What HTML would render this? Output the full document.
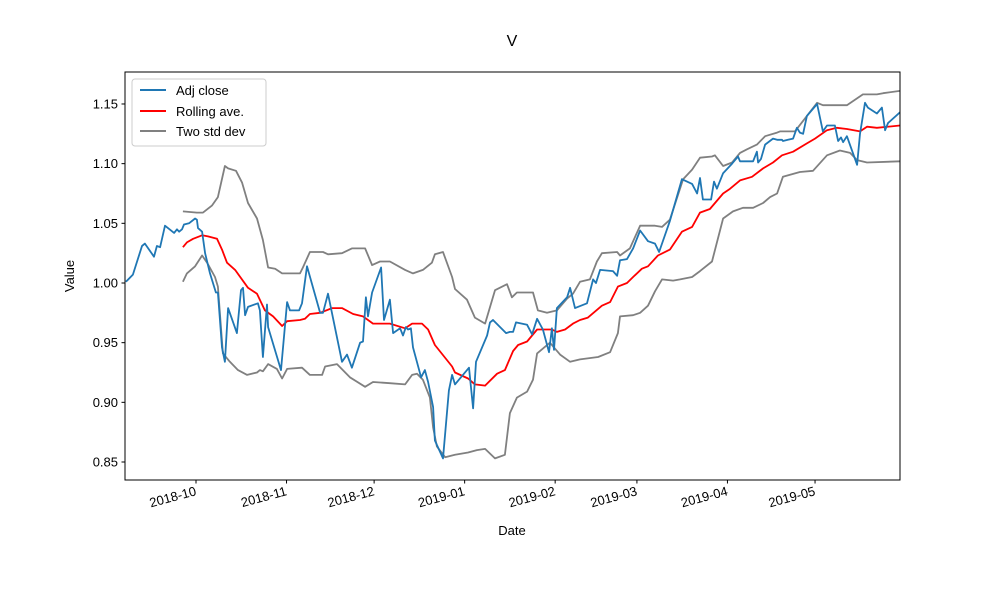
<!DOCTYPE html>
<html><head><meta charset="utf-8"><style>
body{margin:0;background:#fff}
svg{font-family:"Liberation Sans","DejaVu Sans",sans-serif}
</style></head><body>
<svg id="chart" width="1000" height="600" viewBox="0 0 1000 600" xmlns="http://www.w3.org/2000/svg">
<rect width="1000" height="600" fill="#fff"/>
<defs><clipPath id="clip"><rect x="125" y="72" width="775" height="408"/></clipPath></defs>
<text x="512" y="46" text-anchor="middle" font-size="16">V</text>
<g id="series" clip-path="url(#clip)"></g>
<rect x="125" y="72" width="775" height="408" fill="none" stroke="#000" stroke-width="1"/>
<g id="axes"></g>
<text x="512" y="535" text-anchor="middle" font-size="13">Date</text>
<text transform="translate(74,276) rotate(-90)" text-anchor="middle" font-size="13">Value</text>
<g>
<rect x="132" y="79" width="134" height="67" rx="3" fill="#fff" fill-opacity="0.8" stroke="#ccc"/>
<g><line x1="140" y1="90" x2="166" y2="90" stroke="#1f77b4" stroke-width="2"/><text x="176" y="95" font-size="13">Adj close</text></g>
<g><line x1="140" y1="111" x2="166" y2="111" stroke="#ff0000" stroke-width="2"/><text x="176" y="116" font-size="13">Rolling ave.</text></g>
<g><line x1="140" y1="131" x2="166" y2="131" stroke="#808080" stroke-width="2"/><text x="176" y="136" font-size="13">Two std dev</text></g>
</g>
</svg>
<script>
// x = days since 2018-10-01
const closeDays=[-24,-21.6,-18.5,-17.5,-14.4,-13.4,-12.3,-10.6,-7.5,-6.5,-5.8,-4.8,-4.1,-2.4,-0.3,0.3,0.7,2.1,3.1,4.8,6.8,7.5,8.9,9.9,11,14,15.4,16.1,16.8,17.8,21.2,21.9,22.9,24.3,24.7,29.1,31.2,32.2,35.3,36.3,38,42.5,43.5,45.2,50,51.7,53.4,56.2,57.2,58.2,58.9,60.3,63.4,64.4,66.4,67.5,69.9,70.9,71.9,72.6,73.6,74.3,77.1,78.4,79.5,81.2,81.8,84.6,86.6,87.7,88.7,93.5,94.9,95.9,99.7,100.7,101.7,106.2,107.5,108.6,109.6,113.4,115.1,116.8,118.8,120.9,121.9,122.6,123.6,127.1,128.1,129.8,133.9,136,137,138.4,142.8,144.2,145.2,147.6,149.7,152.1,154.8,157.2,158.6,162.3,166.4,169.9,171.6,172.6,173.6,176.4,177.4,178.4,180.5,183.6,185.6,186.3,190.8,192.1,192.5,193.5,194.9,197.6,199,200.7,201,202.7,204.5,205.8,206.8,207.9,209.2,212.7,214.7,216.1,218.8,219.9,220.9,221.6,222.9,226.4,227.4,229.1,230.1,233.2,234.9,236,237,241.1];
const closeVals=[1.001,1.007,1.031,1.033,1.022,1.031,1.030,1.048,1.042,1.045,1.043,1.045,1.049,1.050,1.054,1.053,1.046,1.043,1.025,1.008,0.992,0.992,0.946,0.934,0.979,0.958,0.994,0.996,0.973,0.980,0.983,0.977,0.938,0.982,0.963,0.927,0.984,0.977,0.977,0.983,1.014,0.975,0.975,0.991,0.934,0.940,0.929,0.950,0.951,0.988,0.972,0.992,1.013,0.969,0.986,0.958,0.962,0.956,0.963,0.961,0.962,0.946,0.921,0.927,0.917,0.896,0.868,0.853,0.910,0.923,0.915,0.929,0.895,0.934,0.956,0.967,0.969,0.958,0.959,0.959,0.967,0.965,0.957,0.970,0.961,0.942,0.962,0.944,0.979,0.988,0.996,0.979,0.983,1.003,1.000,1.011,1.010,1.006,1.019,1.020,1.029,1.044,1.035,1.033,1.026,1.052,1.087,1.083,1.075,1.088,1.070,1.070,1.085,1.079,1.092,1.100,1.106,1.102,1.102,1.110,1.101,1.104,1.116,1.121,1.120,1.120,1.119,1.120,1.121,1.130,1.126,1.125,1.140,1.150,1.127,1.132,1.132,1.119,1.122,1.118,1.123,1.099,1.125,1.151,1.147,1.142,1.147,1.128,1.134,1.143];
const aveDays=[-4.5,-3.1,-1,2.1,4.1,7.2,8.9,10.6,13.4,17.8,20.9,23.6,26.4,29.5,31.2,35.6,37.3,39,42.5,46.6,50,53.8,57.2,60.6,66.4,71.6,74,77.4,79.5,81.8,87.7,88.7,93.2,95.5,99,103.1,105.8,108.6,110.3,113.4,116.8,121.9,123.6,126.4,129.1,131.5,134.2,139,141.8,144.5,147.6,149.7,152.7,154.8,158.2,162.3,166.4,169.9,172.6,176,180.5,182.9,186.3,190.4,194.2,197.6,200.7,204.5,209.2,212,216.1,219.5,222.9,227.4,229.8,233.2,241.1];
const aveVals=[1.030,1.034,1.037,1.040,1.039,1.037,1.028,1.017,1.011,0.996,0.991,0.977,0.972,0.964,0.968,0.969,0.970,0.974,0.975,0.979,0.979,0.974,0.972,0.966,0.966,0.962,0.966,0.966,0.961,0.948,0.930,0.925,0.920,0.915,0.914,0.924,0.927,0.943,0.948,0.951,0.961,0.961,0.959,0.961,0.966,0.969,0.971,0.981,0.984,0.997,1.000,1.005,1.012,1.014,1.023,1.028,1.043,1.047,1.059,1.062,1.075,1.079,1.086,1.089,1.096,1.101,1.107,1.110,1.117,1.121,1.128,1.130,1.129,1.127,1.131,1.130,1.132];
const upDays=[-4.5,0.3,2.4,5.5,7.5,9.9,11,13.7,15.8,17.8,20.9,22.9,24.7,27.1,29.5,32.2,35.6,36.6,39,43.5,45.2,50,53.4,57.9,60.3,63,66.4,71.6,74.3,77.7,80.8,81.8,84.6,87.7,88.7,92.8,95.5,99,102.4,106.5,108.2,109.9,115.4,117.1,120.2,123.6,127.1,129.1,131.5,134.9,137.3,139,144.2,145.2,148.6,152.1,157.2,159.6,162.3,166.8,169.9,172.6,176.7,177.7,180.5,183.6,186.3,188.7,192.1,194.9,199,200,205.1,208.6,212.7,214.7,222.9,228.4,233.2,235.3,241.1];
const upVals=[1.060,1.059,1.059,1.065,1.072,1.098,1.096,1.094,1.084,1.067,1.054,1.036,1.013,1.012,1.008,1.008,1.008,1.013,1.026,1.026,1.024,1.025,1.029,1.029,1.015,1.018,1.018,1.011,1.008,1.011,1.017,1.024,1.026,1.005,0.995,0.986,0.971,0.966,0.994,0.999,0.988,0.992,0.992,0.977,0.975,0.977,0.987,0.991,1.001,1.003,1.018,1.025,1.026,1.023,1.029,1.048,1.048,1.047,1.053,1.087,1.095,1.105,1.106,1.107,1.098,1.101,1.109,1.112,1.116,1.123,1.126,1.127,1.127,1.138,1.151,1.149,1.149,1.158,1.158,1.159,1.161];
const loDays=[-4.5,-3.1,-0.3,2.1,3.8,6.5,7.5,9.2,11.6,14.4,17.5,20.9,21.9,22.9,24.7,27.7,29.5,31.2,36.3,39,43.2,44.2,48.3,52.7,57.9,60.6,66.4,71.6,74,75.7,77.7,80.1,81.2,82.5,85.3,88.7,93.2,96.2,99,102.4,105.8,107.5,109.9,113.4,115.4,116.8,121.2,124.7,128.1,131.5,137.7,141.8,144.5,145.2,149.7,152.1,154.8,157.2,159.6,163.4,165.8,169.9,172.6,176.7,180.5,183.9,187.3,190.8,194.2,196.6,199,201,206.8,211.3,216.1,220.5,224,226.4,229.8,241.1];
const loVals=[1.001,1.008,1.014,1.023,1.017,1.005,0.997,0.941,0.934,0.927,0.923,0.925,0.927,0.926,0.932,0.928,0.920,0.928,0.929,0.923,0.923,0.930,0.932,0.921,0.913,0.917,0.916,0.915,0.923,0.924,0.919,0.904,0.879,0.863,0.854,0.856,0.858,0.860,0.861,0.853,0.856,0.891,0.904,0.909,0.919,0.941,0.950,0.940,0.934,0.936,0.938,0.942,0.958,0.972,0.973,0.975,0.981,0.993,1.003,1.002,1.003,1.005,1.010,1.018,1.054,1.060,1.063,1.063,1.067,1.072,1.075,1.089,1.093,1.094,1.107,1.111,1.109,1.103,1.101,1.102];
const yTicks=[0.85,0.90,0.95,1.00,1.05,1.10,1.15];
const xTickDays=[0,31,61,92,123,151,182,212];
const xTickLabels=["2018-10","2018-11","2018-12","2019-01","2019-02","2019-03","2019-04","2019-05"];

const NS="http://www.w3.org/2000/svg";
const xS=d=>196+d*2.92;
const yS=v=>462-(v-0.85)/0.05*59.67;
function mk(tag,attrs,parent){const e=document.createElementNS(NS,tag);for(const k in attrs)e.setAttribute(k,attrs[k]);parent.appendChild(e);return e;}
const series=document.getElementById('series'), axes=document.getElementById('axes');
function line(days,vals,color,name){
  const d=days.map((x,i)=>(i?'L':'M')+xS(x).toFixed(1)+','+yS(vals[i]).toFixed(1)).join('');
  const p=mk('path',{d:d,fill:'none',stroke:color,'stroke-width':1.8,'stroke-linejoin':'round'},series);
  
  
}
line(upDays,upVals,'#808080','upper-band-line');
line(loDays,loVals,'#808080','lower-band-line');
line(aveDays,aveVals,'#ff0000','rolling-average-line');
line(closeDays,closeVals,'#1f77b4','adj-close-line');
yTicks.forEach(v=>{
  const y=yS(v);
  const t=mk('line',{x1:121.5,x2:125,y1:y,y2:y,stroke:'#000'},axes);
  
  
  const tx=mk('text',{x:118,y:y+4.5,'text-anchor':'end','font-size':13},axes);
  tx.textContent=v.toFixed(2);
  
  
});
xTickDays.forEach((d,i)=>{
  const x=xS(d);
  const t=mk('line',{x1:x,x2:x,y1:480,y2:483.5,stroke:'#000'},axes);
  
  
  const tx=mk('text',{transform:`translate(${x+1},${495}) rotate(-15)`,'text-anchor':'end','font-size':13},axes);
  tx.textContent=xTickLabels[i];
  
  
});
</script>
</body></html>
